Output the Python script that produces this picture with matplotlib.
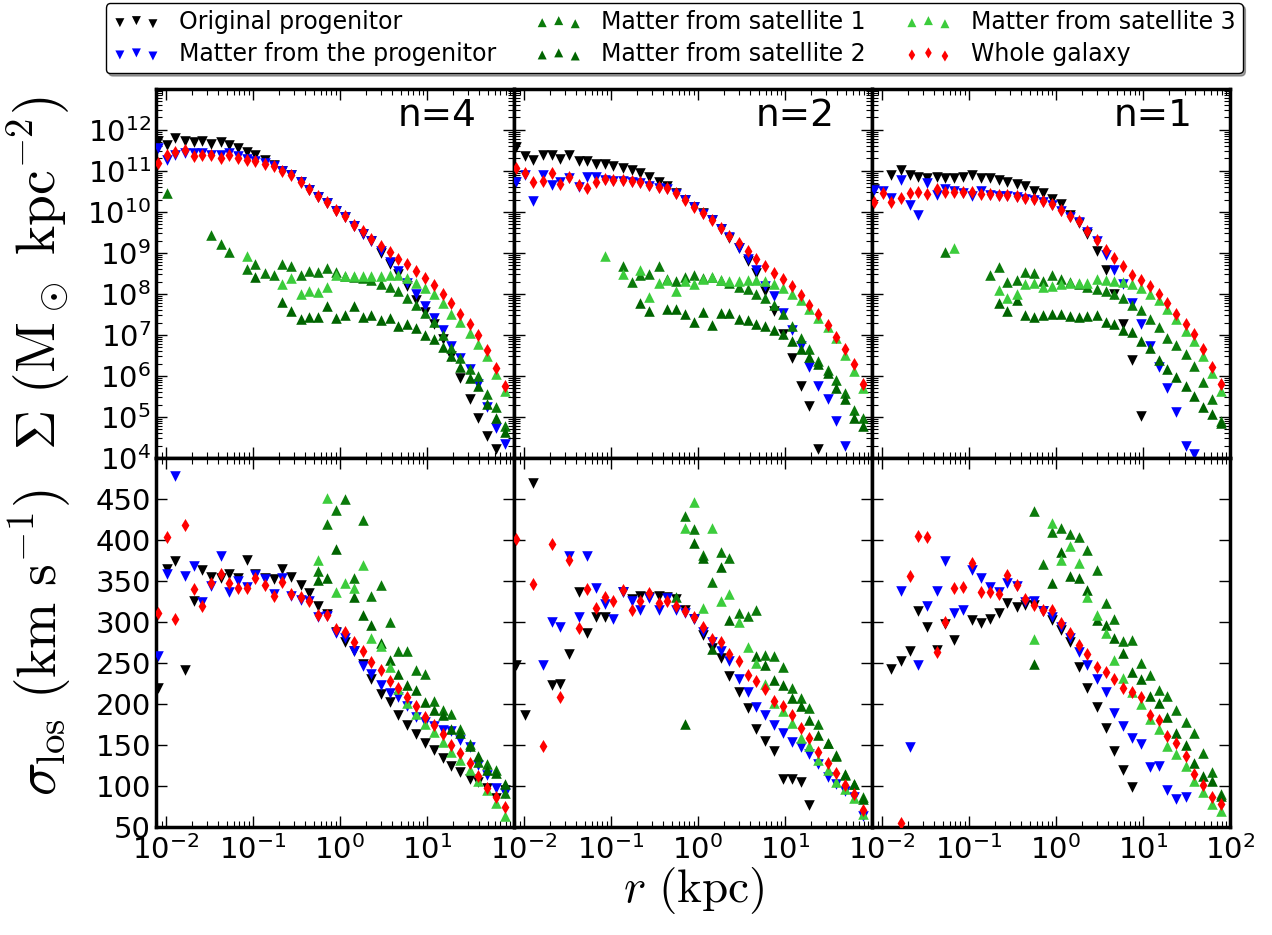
import numpy as np
import matplotlib
matplotlib.use('Agg')
import matplotlib.pyplot as plt
from matplotlib.ticker import LogLocator, FixedLocator, NullFormatter, LogFormatterMathtext, NullLocator

# ---------------- data ----------------
# radial bins (log10 r / kpc)
logr = [-2.09, -1.99, -1.89, -1.78, -1.68, -1.58, -1.48, -1.37, -1.27, -1.17,
        -1.07, -0.97, -0.86, -0.76, -0.66, -0.56, -0.45, -0.35, -0.25, -0.15,
        -0.05, 0.06, 0.16, 0.26, 0.36, 0.47, 0.57, 0.67, 0.77, 0.87,
        0.98, 1.08, 1.18, 1.28, 1.38, 1.49, 1.59, 1.69, 1.79, 1.90]

N = None
# log10 Sigma (Msun/kpc^2)
logS_orig_n4 = [11.72, 11.64, 11.80, 11.72, 11.70, 11.72, 11.65, 11.70, 11.62, 11.55, 11.47, 11.39, 11.27, 11.15, 11.00, 10.89, 10.73, 10.54, 10.36, 10.22, 10.03, 9.87, 9.65, 9.47, 9.28, 9.00, 8.73, 8.49, 8.19, 7.86, 7.56, 7.27, 6.89, 6.48, 5.96, 5.43, 4.98, 4.54, 4.21, N]
logS_prog_n4 = [11.55, 11.27, 11.39, 11.43, 11.43, 11.43, 11.39, 11.39, 11.43, 11.35, 11.29, 11.25, 11.19, 11.11, 10.99, 10.89, 10.73, 10.54, 10.36, 10.22, 10.03, 9.87, 9.65, 9.47, 9.28, 9.04, 8.78, 8.55, 8.27, 7.99, 7.70, 7.42, 7.11, 6.73, 6.43, 6.16, 5.80, 5.24, 4.74, 4.34]
logS_sat1_n4 = [N, 10.46, N, N, N, N, 9.43, 9.22, 9.02, N, 8.61, 8.72, 8.50, 8.47, 8.74, 8.67, 8.46, 8.55, 8.54, 8.62, 8.54, 8.43, 8.41, 8.39, 8.33, 8.25, 8.17, 8.07, 7.90, 7.74, 7.54, 7.32, 7.00, 6.69, 6.44, 6.18, 6.00, 5.55, 5.24, 4.78]
logS_sat2_n4 = [N] * 11 + [8.41, N, N, 7.81, 7.58, 7.38, 7.44, 7.44, 7.70, 7.42, 7.48, 7.70, 7.43, 7.48, 7.36, 7.40, 7.21, 7.27, 7.17, 7.00, 6.89, 6.71, 6.48, 6.22, 5.96, 5.76, 5.31, 4.98, 4.62]
logS_sat3_n4 = [N] * 10 + [8.92, N, N, N, 8.25, 8.39, 7.99, 8.08, 8.05, 8.17, 8.46, 8.43, 8.43, 8.43, 8.43, 8.43, 8.46, 8.47, 8.39, 8.27, 8.15, 7.99, 7.78, 7.52, 7.32, 7.05, 6.77, 6.48, 6.04, 5.63]
logS_all_n4 = [11.19, 11.39, 11.47, 11.51, 11.35, 11.39, 11.38, 11.31, 11.38, 11.31, 11.27, 11.23, 11.17, 11.11, 11.00, 10.91, 10.74, 10.56, 10.38, 10.24, 10.05, 9.89, 9.69, 9.53, 9.35, 9.16, 9.02, 8.86, 8.72, 8.55, 8.39, 8.21, 8.00, 7.77, 7.52, 7.26, 7.00, 6.63, 6.20, 5.76]

logS_orig_n2 = [11.57, 11.35, 11.27, 11.39, 11.38, 11.29, 11.39, 11.23, 11.25, 11.17, 11.16, 11.11, 11.08, 11.03, 10.95, 10.86, 10.74, 10.62, 10.46, 10.28, 10.12, 9.96, 9.79, 9.59, 9.36, 9.12, 8.80, 8.51, 8.07, 7.58, 7.03, 6.43, 5.76, 5.27, 4.21, N, N, N, N, N]
logS_prog_n2 = [10.74, 10.90, 10.27, 10.89, 10.65, 10.74, 10.82, 10.60, 10.86, 10.84, 10.78, 10.76, 10.76, 10.74, 10.71, 10.64, 10.58, 10.56, 10.44, 10.28, 10.11, 9.95, 9.79, 9.59, 9.38, 9.12, 8.84, 8.57, 8.19, 7.94, 7.54, 7.13, 6.73, 6.22, 5.76, 5.43, 4.89, 4.30, N, N]
logS_sat1_n2 = [N] * 12 + [8.67, 8.29, 8.46, 8.49, 8.67, 8.37, 8.31, 8.41, 8.47, 8.39, 8.41, 8.33, 8.27, 8.16, 8.13, 8.00, 7.89, 7.74, 7.50, 7.21, 6.93, 6.65, 6.36, 6.14, 5.89, 5.59, 5.16, 4.98]
logS_sat2_n2 = [N] * 14 + [7.78, 7.58, N, 7.64, 7.64, 7.51, 7.32, 7.56, 7.24, 7.54, 7.54, 7.38, 7.36, 7.26, 7.21, 7.12, 7.03, 6.85, 6.65, 6.46, 6.28, 6.08, 5.71, 5.43, 4.98, 4.78]
logS_sat3_n2 = [N] * 10 + [8.92, N, 8.49, N, 8.59, 7.92, 8.27, 8.33, 8.07, 8.31, 8.24, 8.37, 8.41, 8.35, 8.31, 8.31, 8.35, 8.35, 8.31, 8.23, 8.15, 8.00, 7.84, 7.64, 7.42, 7.19, 6.93, 6.51, 6.12, 5.70]
logS_all_n2 = [11.07, 10.95, 10.73, 10.76, 10.95, 10.69, 10.86, 10.66, 10.58, 10.74, 10.80, 10.78, 10.78, 10.76, 10.73, 10.66, 10.60, 10.58, 10.46, 10.30, 10.13, 9.97, 9.81, 9.61, 9.40, 9.24, 9.04, 8.86, 8.67, 8.51, 8.37, 8.19, 7.97, 7.74, 7.50, 7.24, 6.96, 6.65, 6.28, 5.81]

logS_orig_n1 = [10.56, N, 10.91, 11.03, 10.89, 10.84, 10.82, 10.84, 10.82, 10.82, 10.86, 10.89, 10.82, 10.82, 10.78, 10.74, 10.69, 10.62, 10.50, 10.46, 10.32, 10.18, 9.93, 9.73, 9.45, 9.04, 8.59, 8.00, 7.26, 6.38, 5.03, N, N, N, N, N, N, N, N, N]
logS_prog_n1 = [10.54, 10.52, 10.35, 10.78, 10.16, 9.93, 10.70, 10.42, 10.56, 10.52, 10.46, 10.38, 10.52, 10.41, 10.38, 10.38, 10.36, 10.32, 10.30, 10.24, 10.16, 10.03, 9.87, 9.75, 9.52, 9.28, 8.96, 8.59, 8.23, 7.78, 7.27, 6.73, 6.22, 5.71, 5.11, 4.30, 4.09, N, N, N]
logS_sat1_n1 = [N] * 8 + [9.02, N, N, N, N, 8.47, 8.65, 8.29, 8.35, 8.54, 8.51, 8.31, 8.46, 8.37, 8.29, 8.23, 8.17, 8.13, 8.08, 7.99, 7.89, 7.74, 7.60, 7.38, 7.19, 6.93, 6.75, 6.53, 6.24, 5.84, 5.43, 4.89]
logS_sat2_n1 = [N] * 14 + [7.78, 7.58, 7.84, 7.48, 7.44, 7.48, 7.51, 7.51, 7.46, 7.43, 7.47, 7.48, 7.32, 7.27, 7.13, 7.08, 6.85, 6.69, 6.38, 6.18, 5.97, 5.76, 5.51, 5.23, 5.07, 4.84]
logS_sat3_n1 = [N] * 9 + [9.12, N, N, N, N, 8.09, 7.90, 7.99, 8.23, 8.27, 8.16, 8.19, 8.24, 8.27, 8.27, 8.27, 8.37, 8.35, 8.31, 8.29, 8.23, 8.15, 8.00, 7.84, 7.64, 7.38, 7.09, 6.85, 6.48, 6.06, 5.63]
logS_all_n1 = [10.24, 10.46, 10.24, 10.34, 10.46, 10.48, 10.43, 10.56, 10.48, 10.48, 10.48, 10.48, 10.43, 10.43, 10.40, 10.40, 10.38, 10.34, 10.32, 10.26, 10.18, 10.05, 9.89, 9.77, 9.54, 9.32, 9.08, 8.88, 8.67, 8.47, 8.35, 8.19, 8.00, 7.78, 7.50, 7.27, 7.01, 6.65, 6.22, 5.80]

# line-of-sight velocity dispersion (km/s)
sig_orig_n4 = [220, 365, 374, 242, 326, 363, 355, 353, 358, 353, 376, 359, 354, 352, 365, 355, 345, 335, 319, 310, 288, 276, 264, 249, 231, 212, 202, 186, 174, 163, 152, 144, 134, 124, 117, 109, 105, 97, 85, 95]
sig_prog_n4 = [258, 358, 478, 356, 368, 324, 344, 380, 337, 350, 343, 357, 352, 334, 353, 332, 327, 325, 306, 307, 287, 280, 264, 246, 236, 223, 213, 208, 197, 184, 178, 173, 168, 167, 156, 147, 125, 113, 98, 91]
sig_sat1_n4 = [N] * 18 + [362, 420, 436, 450, 353, 424, 332, 345, 300, 264, 265, 241, 236, 204, 193, 188, 170, 151, 129, 127, 119, 91]
sig_sat2_n4 = [N] * 18 + [351, 354, 389, N, 331, 308, 296, 274, 254, 236, 223, 217, 203, 193, 186, 170, 165, 149, 136, 119, 116, 103]
sig_sat3_n4 = [N] * 18 + [376, 451, 336, 347, 342, 369, 280, 271, 245, 218, 201, 188, 175, 166, 154, 142, 132, 119, 106, 95, 79, 64]
sig_all_n4 = [311, 403, 304, 418, 340, 319, 347, 359, 347, 342, 341, 354, 345, 332, 349, 334, 330, 325, 309, 308, 292, 288, 275, 264, 251, 241, 228, 220, 208, 197, 184, 174, 163, 150, 140, 128, 112, 98, 87, 75]

sig_orig_n2 = [247, 186, 470, N, 223, 224, 261, 336, 287, 306, 306, N, 337, 328, 332, 330, 332, 331, 328, 315, 304, 284, 268, 256, 234, 215, 195, 169, 155, 143, 108, 108, 105, 77, N, N, N, N, N, N]
sig_prog_n2 = [N, N, N, 247, 300, 294, 380, 306, 380, 342, 322, 303, 337, 325, 315, 329, 315, 329, 315, 311, 304, 288, 275, 264, 252, 231, 214, 196, 186, 174, 165, 154, 148, 139, 127, 111, 103, 94, 87, 64]
sig_sat1_n2 = [N] * 18 + [331, 429, 413, 382, 349, 385, 378, 311, 307, 315, 260, 258, 245, 220, 207, 195, 175, 153, 138, 114, 103, 86]
sig_sat2_n2 = [N] * 19 + [175, 396, 378, 267, 367, 302, N, N, 258, 247, 229, 223, 207, 197, 181, 162, 152, 136, 115, 103, 84]
sig_sat3_n2 = [N] * 19 + [414, 446, 317, 414, 326, 334, 300, 269, 250, 224, 201, 191, 177, 159, 149, 132, 120, 105, 96, 85, 66]
sig_all_n2 = [401, N, 346, 149, 395, 208, 376, 293, 340, 317, 331, 325, 339, 315, 326, 335, 323, 325, 319, 313, 306, 294, 279, 275, 261, 252, 235, 228, 218, 204, 197, 186, 171, 159, 142, 128, 116, 101, 90, 71]

sig_orig_n1 = [N, N, 243, 252, 264, 313, 294, 266, 298, 278, N, 302, 299, 304, 311, 323, 318, 321, 321, 313, 302, 290, 276, 245, 220, 196, 171, 143, 119, 99, N, N, N, N, N, N, N, N, N, N]
sig_prog_n1 = [N, N, N, 338, 147, 247, 319, 338, 374, 311, 315, 363, 353, 343, 337, 348, 344, 324, 325, 313, 306, 294, 280, 263, 247, 230, 214, 189, 173, 159, 151, 123, 124, 95, 84, 87, N, N, N, N]
sig_sat1_n1 = [N] * 18 + [435, 371, 410, 414, 407, 403, 388, 363, 323, 303, 277, 278, 250, 235, 217, 210, 193, 178, 165, 140, 117, 90]
sig_sat2_n1 = [N] * 18 + [249, N, 347, 385, 356, 354, 339, 302, 296, 281, 262, 239, 231, 210, 201, 184, 165, 150, 128, 112, 106, 88]
sig_sat3_n1 = [N] * 18 + [279, N, 421, 376, 392, 372, 331, 308, 286, 254, 232, 215, 200, 182, 169, 149, 139, 124, 106, 93, 78, 70]
sig_all_n1 = [N, N, N, 55, 356, 405, 403, 263, 300, 341, 343, 372, 337, 336, 334, 357, 345, 328, 321, 315, 314, 299, 286, 272, 261, 245, 239, 231, 219, 215, 208, 186, 180, 161, 153, 136, 115, 101, 87, 78]

panel_labels = ['n=4', 'n=2', 'n=1']
series_labels = ['Original progenitor', 'Matter from the progenitor', 'Matter from satellite 1',
                 'Matter from satellite 2', 'Matter from satellite 3', 'Whole galaxy']
series_colors = ['black', 'blue', '#0b7a0b', '#006400', '#3ccc3c', 'red']
series_markers = ['v', 'v', '^', '^', '^', 'd']
series_sizes = [58, 58, 58, 58, 58, 44]

top_data = [
    [logS_orig_n4, logS_prog_n4, logS_sat1_n4, logS_sat2_n4, logS_sat3_n4, logS_all_n4],
    [logS_orig_n2, logS_prog_n2, logS_sat1_n2, logS_sat2_n2, logS_sat3_n2, logS_all_n2],
    [logS_orig_n1, logS_prog_n1, logS_sat1_n1, logS_sat2_n1, logS_sat3_n1, logS_all_n1],
]
bot_data = [
    [sig_orig_n4, sig_prog_n4, sig_sat1_n4, sig_sat2_n4, sig_sat3_n4, sig_all_n4],
    [sig_orig_n2, sig_prog_n2, sig_sat1_n2, sig_sat2_n2, sig_sat3_n2, sig_all_n2],
    [sig_orig_n1, sig_prog_n1, sig_sat1_n1, sig_sat2_n1, sig_sat3_n1, sig_all_n1],
]


def arr(v):
    return np.array([np.nan if x is None else x for x in v], dtype=float)


r = 10 ** arr(logr)

# ---------------- figure ----------------
plt.rcParams['font.family'] = 'DejaVu Sans'
plt.rcParams['mathtext.fontset'] = 'dejavusans'

fig = plt.figure(figsize=(12.72, 9.35), dpi=100)
gs = fig.add_gridspec(2, 3, left=0.1226, right=0.967, top=0.905, bottom=0.1155,
                      wspace=0, hspace=0)

handles = []
for col in range(3):
    axt = fig.add_subplot(gs[0, col])
    axb = fig.add_subplot(gs[1, col])
    for i in range(6):
        h = axt.scatter(r, 10 ** arr(top_data[col][i]), s=series_sizes[i], c=series_colors[i],
                        marker=series_markers[i], linewidths=0, label=series_labels[i], zorder=2 + i)
        axb.scatter(r, arr(bot_data[col][i]), s=series_sizes[i], c=series_colors[i],
                    marker=series_markers[i], linewidths=0, zorder=2 + i)
        if col == 0:
            handles.append(h)

    for ax in (axt, axb):
        ax.set_xscale('log')
        ax.set_xlim(0.0077, 100)
        xt = [1e-2, 1e-1, 1, 10] if col < 2 else [1e-2, 1e-1, 1, 10, 100]
        ax.xaxis.set_major_locator(FixedLocator(xt))
        ax.xaxis.set_minor_locator(LogLocator(base=10, subs=np.arange(2, 10), numticks=20))
        ax.xaxis.set_major_formatter(LogFormatterMathtext())
        ax.xaxis.set_minor_formatter(NullFormatter())
        ax.tick_params(which='both', direction='in', top=True, right=True, labelsize=21)
        ax.tick_params(which='major', length=8, width=1)
        ax.tick_params(which='minor', length=4, width=0.8)
        ax.tick_params(axis='x', pad=6)
        for sp in ax.spines.values():
            sp.set_linewidth(2.5)

    axt.set_yscale('log')
    axt.set_ylim(1e4, 1e13)
    axt.yaxis.set_major_locator(FixedLocator([10.0 ** k for k in range(4, 13)]))
    axt.yaxis.set_minor_locator(LogLocator(base=10, subs=np.arange(2, 10), numticks=30))
    axt.yaxis.set_major_formatter(LogFormatterMathtext())
    axt.yaxis.set_minor_formatter(NullFormatter())
    axt.tick_params(labelbottom=False)

    axb.set_ylim(50, 500)
    axb.yaxis.set_major_locator(FixedLocator(list(range(50, 451, 50))))
    axb.yaxis.set_minor_locator(NullLocator())

    if col > 0:
        axt.tick_params(labelleft=False)
        axb.tick_params(labelleft=False)
    else:
        axt.set_ylabel(r'$\Sigma\ (\mathrm{M_\odot\ kpc^{-2}})$', fontsize=40, math_fontfamily='cm')
        axb.set_ylabel(r'$\sigma_\mathrm{los}\ (\mathrm{km\ s^{-1}})$', fontsize=40, math_fontfamily='cm')
        axt.yaxis.set_label_coords(-0.232, 0.5)
        axb.yaxis.set_label_coords(-0.232, 0.5)

    axt.text(0.895, 0.975, panel_labels[col], transform=axt.transAxes, ha='right', va='top',
             fontsize=27)

fig.text(0.545, 1 - 890 / 935, r'$r\ (\mathrm{kpc})$', ha='center', va='center', fontsize=34,
         math_fontfamily='cm')

leg = fig.legend(handles=handles, labels=series_labels, loc='upper center',
                 bbox_to_anchor=(0.53, 0.997), ncol=3, fontsize=17, scatterpoints=3,
                 markerscale=0.85, fancybox=True, shadow=True, frameon=True,
                 handlelength=2.0, handletextpad=0.8, columnspacing=1.65,
                 borderpad=0.3, labelspacing=0.35, borderaxespad=0.0)
leg.get_frame().set_edgecolor('black')
leg.get_frame().set_linewidth(1.0)

fig.savefig('out.png', dpi=100)
